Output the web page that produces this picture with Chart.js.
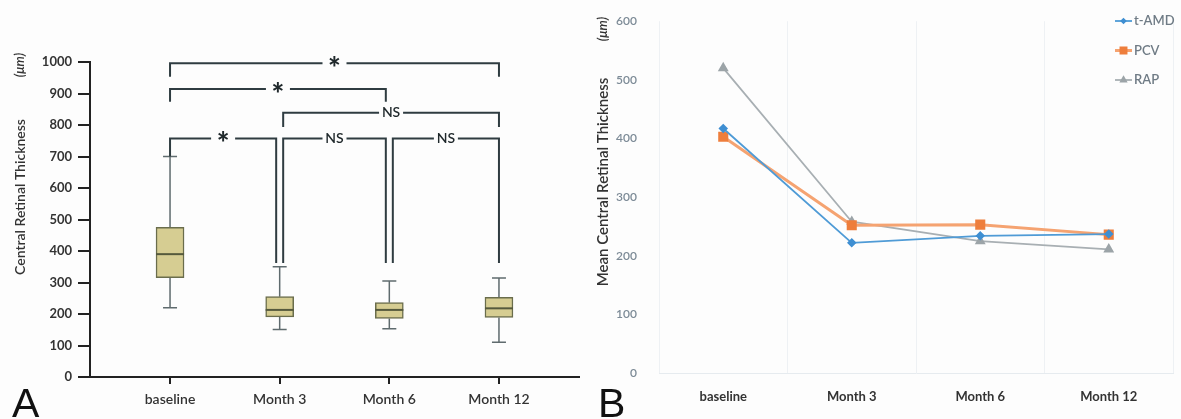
<!DOCTYPE html>
<html>
<head>
<meta charset="utf-8">
<script src="https://cdn.jsdelivr.net/npm/chart.js@4"></script>
<style>
body{margin:0;background:#fdfdfd}
.wrap{position:relative;width:1181px;height:419px}
#boxA{position:absolute;left:0;top:0}
#lineB{position:absolute;left:590px;top:0}
</style>
</head>
<body>
<div class="wrap">
<canvas id="boxA" width="590" height="419"></canvas>
<canvas id="lineB" width="591" height="419"></canvas>
</div>
<script>
// panel A - box plot values
var categories = ["baseline","Month 3","Month 6","Month 12"];
var boxMin    = [220,151,153,110];
var boxQ1     = [315,191,186,189];
var boxMedian = [390,213,213,218];
var boxQ3     = [475,255,236,253];
var boxMax    = [700,350,305,314];

// significance brackets (category index from/to, height, where the legs end)
var brFrom  = [0,0,1,0,1,2];
var brTo    = [3,2,3,1,2,3];
var brY     = [996,914,839,757,757,757];
var brLegL  = [953,874,794,700,362,362];
var brLegR  = [953,874,794,362,362,362];
var brLabel = ["*","*","NS","*","NS","NS"];

// panel B - mean values
var tAMD = [417,222,234,237];
var PCV  = [403,252,253,236];
var RAP  = [520,258,225,211];

var FONT = "Lato, 'Open Sans', sans-serif";

function rotText(ctx, txt, x, y, font, color){
    ctx.save();
    ctx.translate(x,y);
    ctx.rotate(-Math.PI/2);
    ctx.font = font;
    ctx.fillStyle = color;
    ctx.textAlign = "center";
    ctx.textBaseline = "middle";
    ctx.fillText(txt,0,0);
    ctx.restore();
}

var boxExtras = {
    id:"boxExtras",
    beforeDatasetsDraw: function(chart){
        var ctx = chart.ctx, x = chart.scales.x, y = chart.scales.y;
        ctx.save();
        ctx.strokeStyle = "#5f6b6e";
        ctx.lineWidth = 1.5;
        for (var i=0;i<categories.length;i++){
            var cx = x.getPixelForValue(i);
            ctx.beginPath();
            ctx.moveTo(cx,y.getPixelForValue(boxQ3[i])); ctx.lineTo(cx,y.getPixelForValue(boxMax[i]));
            ctx.moveTo(cx,y.getPixelForValue(boxQ1[i])); ctx.lineTo(cx,y.getPixelForValue(boxMin[i]));
            ctx.moveTo(cx-7,y.getPixelForValue(boxMax[i])); ctx.lineTo(cx+7,y.getPixelForValue(boxMax[i]));
            ctx.moveTo(cx-7,y.getPixelForValue(boxMin[i])); ctx.lineTo(cx+7,y.getPixelForValue(boxMin[i]));
            ctx.stroke();
        }
        ctx.restore();
    },
    afterDatasetsDraw: function(chart){
        var ctx = chart.ctx, x = chart.scales.x, y = chart.scales.y;
        ctx.save();
        // medians
        ctx.strokeStyle = "#55593c";
        ctx.lineWidth = 2;
        for (var i=0;i<categories.length;i++){
            var cx = x.getPixelForValue(i), my = y.getPixelForValue(boxMedian[i]);
            ctx.beginPath(); ctx.moveTo(cx-14,my); ctx.lineTo(cx+14,my); ctx.stroke();
        }
        // brackets
        ctx.strokeStyle = "#2f3c41";
        ctx.fillStyle = "#1f282b";
        ctx.lineWidth = 2;
        for (var k=0;k<brFrom.length;k++){
            var x1 = x.getPixelForValue(brFrom[k]) + ((brFrom[k]==1||brFrom[k]==2)?3.5:0);
            var x2 = x.getPixelForValue(brTo[k]) - ((brTo[k]==1||brTo[k]==2)?3.5:0);
            var yh = y.getPixelForValue(brY[k]);
            var mid = (x1+x2)/2;
            ctx.beginPath();
            ctx.moveTo(x1,y.getPixelForValue(brLegL[k])); ctx.lineTo(x1,yh); ctx.lineTo(mid-12,yh);
            ctx.moveTo(mid+12,yh); ctx.lineTo(x2,yh); ctx.lineTo(x2,y.getPixelForValue(brLegR[k]));
            ctx.stroke();
            ctx.textAlign = "center";
            ctx.textBaseline = "middle";
            if (brLabel[k]=="*"){
                ctx.font = "900 30px " + FONT;
                ctx.fillText("*",mid,yh+6);
            } else {
                ctx.font = "600 14px " + FONT;
                ctx.fillText(brLabel[k],mid,yh);
            }
        }
        ctx.restore();
    },
    afterDraw: function(chart){
        var ctx = chart.ctx;
        rotText(ctx,"Central Retinal Thickness",20,197,"600 14px "+FONT,"#333");
        rotText(ctx,"(\u03bcm)",20,65,"italic 600 13px "+FONT,"#333");
        ctx.save();
        ctx.font = "41px 'Liberation Sans', Arial, sans-serif";
        ctx.fillStyle = "#111";
        ctx.textBaseline = "alphabetic";
        ctx.fillText("A",12,417);
        ctx.restore();
    }
};

new Chart(document.getElementById("boxA"),{
    type:"bar",
    data:{
        datasets:[{
            data: categories.map(function(c,i){ return {x:i, y:[boxQ1[i],boxQ3[i]]}; }),
            backgroundColor:"#d6cd92",
            borderColor:"#6a6d4c",
            borderWidth:1.5,
            borderSkipped:false,
            barThickness:28
        }]
    },
    options:{
        responsive:false,
        animation:false,
        layout:{padding:{left:0,right:11,top:62,bottom:0}},
        plugins:{legend:{display:false},tooltip:{enabled:false}},
        scales:{
            x:{
                type:"linear", min:-0.73, max:3.73, offset:false,
                afterBuildTicks:function(s){ s.ticks = categories.map(function(c,i){ return {value:i}; }); },
                afterFit:function(s){ s.height = 42; },
                ticks:{callback:function(v){ return categories[v]; }, color:"#333", font:{family:FONT,size:14,weight:"600"}, padding:7, maxRotation:0, autoSkip:false},
                grid:{offset:false, drawOnChartArea:false, tickLength:7, color:"#222", lineWidth:2},
                border:{color:"#222", width:2}
            },
            y:{
                min:0, max:1000,
                afterFit:function(s){ s.width = 90; },
                ticks:{stepSize:100, callback:function(v){ return String(v); }, color:"#333", font:{family:FONT,size:13,weight:"bold"}, padding:6},
                grid:{drawOnChartArea:false, tickLength:12, color:"#222", lineWidth:2},
                border:{color:"#222", width:2}
            }
        }
    },
    plugins:[boxExtras]
});

var lineExtras = {
    id:"lineExtras",
    afterDraw:function(chart){
        var ctx = chart.ctx;
        rotText(ctx,"Mean Central Retinal Thickness",13,182,"600 15px "+FONT,"#333");
        rotText(ctx,"(\u03bcm)",13,29,"italic 600 13px "+FONT,"#333");
        // legend: line with marker
        chart.data.datasets.forEach(function(ds,i){
            var ly = 21 + i*29.5, lx1 = 525, lx2 = 542;
            ctx.save();
            ctx.strokeStyle = ds.borderColor;
            ctx.lineWidth = ds.borderWidth;
            ctx.beginPath(); ctx.moveTo(lx1,ly); ctx.lineTo(lx2,ly); ctx.stroke();
            ctx.fillStyle = ds.pointBackgroundColor;
            ctx.strokeStyle = ds.pointBackgroundColor;
            Chart.helpers.drawPoint(ctx,{pointStyle:ds.pointStyle, radius:ds.pointRadius-1.5, rotation:0, borderWidth:1},(lx1+lx2)/2,ly);
            ctx.font = "600 13px " + FONT;
            ctx.fillStyle = "#6f7b85";
            ctx.textBaseline = "middle";
            ctx.fillText(ds.label,lx2+2,ly);
            ctx.restore();
        });
        ctx.save();
        ctx.font = "41px 'Liberation Sans', Arial, sans-serif";
        ctx.fillStyle = "#111";
        ctx.fillText("B",8,417);
        ctx.restore();
    }
};

new Chart(document.getElementById("lineB"),{
    type:"line",
    data:{
        labels:categories,
        datasets:[
            {label:"t-AMD", data:tAMD, borderColor:"#4f9bd6", borderWidth:1.8, pointStyle:"rectRot", pointRadius:3.5, pointBackgroundColor:"#3f8fd2", pointBorderColor:"#3f8fd2", tension:0},
            {label:"PCV", data:PCV, borderColor:"#f5a371", borderWidth:3, pointStyle:"rect", pointRadius:5, pointBackgroundColor:"#ee7e3c", pointBorderColor:"#ee7e3c", tension:0},
            {label:"RAP", data:RAP, borderColor:"#a8afb3", borderWidth:1.8, pointStyle:"triangle", pointRadius:4.5, pointBackgroundColor:"#9ca4a8", pointBorderColor:"#9ca4a8", tension:0}
        ]
    },
    options:{
        responsive:false,
        animation:false,
        layout:{padding:{left:0,right:6,top:16,bottom:0}},
        plugins:{legend:{display:false},tooltip:{enabled:false}},
        scales:{
            x:{
                offset:true,
                afterFit:function(s){ s.height = 46; },
                grid:{offset:true, color:"#eef1f4", drawTicks:false},
                border:{color:"#e6ebef"},
                ticks:{color:"#333", font:{family:FONT,size:13,weight:"bold"}, padding:16, maxRotation:0}
            },
            y:{
                min:0, max:600,
                afterFit:function(s){ s.width = 69; },
                ticks:{stepSize:100, color:"#7d8b97", font:{family:FONT,size:12,weight:"600"}, padding:14},
                grid:{display:false},
                border:{display:false}
            }
        }
    },
    plugins:[lineExtras]
});
</script>
</body>
</html>
